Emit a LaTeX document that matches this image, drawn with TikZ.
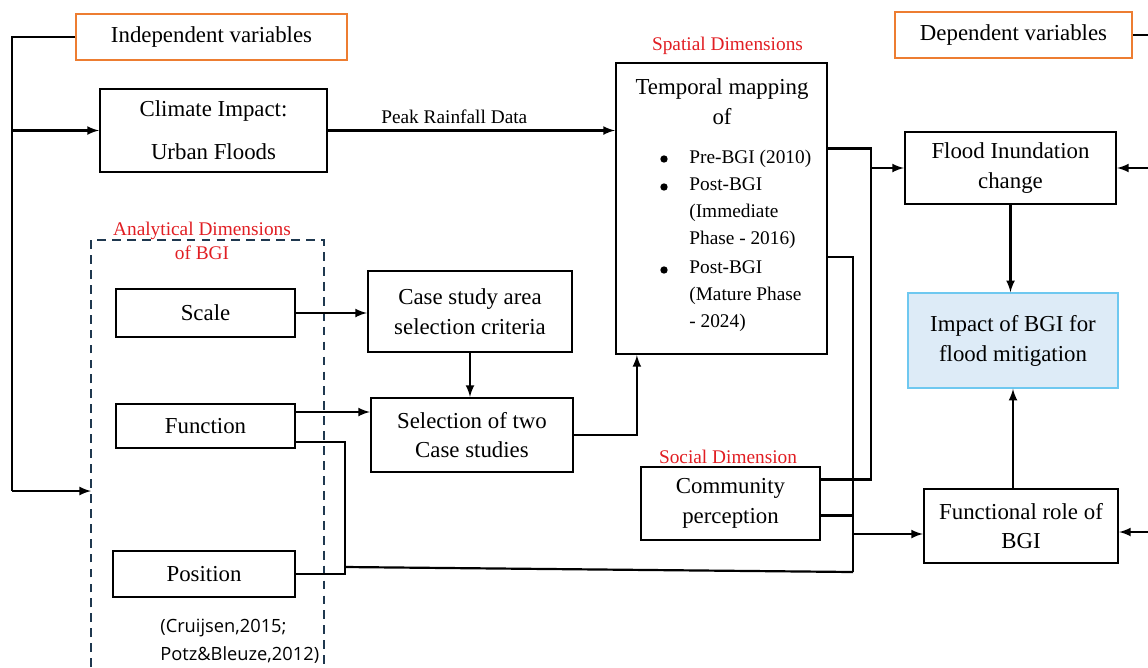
\documentclass[tikz,border=0pt]{standalone}
\usepackage{fontspec}
\setmainfont{Liberation Serif}
\newfontfamily\citefont{Open Sans}
\usetikzlibrary{calc}
\definecolor{varorange}{RGB}{237,125,49}
\definecolor{dimred}{RGB}{225,30,35}
\definecolor{dashblue}{RGB}{31,56,79}
\definecolor{impactfill}{RGB}{221,235,247}
\definecolor{impactline}{RGB}{110,200,240}

\begin{document}
\begin{tikzpicture}[>=latex, x=0.02cm, y=-0.02cm,
		box/.style={draw, line width=1.3pt, inner sep=0pt, align=center, font=\fontsize{13}{17}\selectfont},
		varbox/.style={box, draw=varorange},
		dimlabel/.style={text=dimred, inner sep=0pt, align=center, font=\fontsize{11}{13.7}\selectfont},
		item/.style={inner sep=0pt, align=left, font=\fontsize{11}{15.4}\selectfont},
		dot/.style={circle, fill, inner sep=0pt, minimum size=4.2pt},
		link/.style={line width=1.25pt}]
	\useasboundingbox (0,0) rectangle (1148,667);
	
	% 1. 变量框 (左上与右上)
	\node[varbox, minimum width=5.42cm, minimum height=0.92cm] (indep) at (211.5,37) {Independent variables};
	\node[varbox, minimum width=4.74cm, minimum height=0.92cm] (dep) at (1013.5,35) {Dependent variables};
	
	% 2. 左侧主要方框
	\node[box, minimum width=4.54cm, minimum height=1.66cm, font=\fontsize{13}{24.5}\selectfont] (clim) at (213.5,130.5) {Climate Impact:\\Urban Floods};
	\node[box, minimum width=3.58cm, minimum height=0.96cm] (scale) at (205.5,313) {Scale};
	\node[box, minimum width=3.58cm, minimum height=0.88cm] (func) at (205.5,426) {Function};
	\node[box, minimum width=3.64cm, minimum height=0.92cm] (pos) at (204,574) {Position};
	\node[item, anchor=west, font=\citefont\fontsize{10.4}{16}\selectfont] (cite) at (160,641) {(Cruijsen,2015;\\Potz\&Bleuze,2012)};
	
	% 3. 虚线框 "Analytical Dimensions of BGI"
	\coordinate (adtl) at (91,240);
	\coordinate (adtr) at (324,240);
	\draw[dashblue, line width=1.3pt, dash pattern=on 5pt off 3.5pt] (adtl |- 0,667) -- (adtl) -- (adtr) -- (adtr |- 0,667);
	\node[dimlabel] (anal) at (202,241) {Analytical Dimensions\\of BGI};
	
	% 4. 中间方框
	\node[box, minimum width=4.08cm, minimum height=1.62cm] (case) at (470,311.5) {Case study area\\selection criteria};
	\node[box, minimum width=4.04cm, minimum height=1.48cm] (sel) at (472,435) {Selection of two\\Case studies};
	\node[box, minimum width=3.58cm, minimum height=1.46cm] (comm) at (730.5,503.5) {Community\\perception};
	\node[dimlabel] (social) at (728,457) {Social Dimension};
	
	% 5. 时间映射框及其列表
	\node[box, minimum width=4.22cm, minimum height=5.82cm] (temp) at (721.5,208.5) {};
	\node[dimlabel] (spatial) at (727.5,46) {Spatial Dimensions};
	\node[inner sep=0pt, align=center, font=\fontsize{13}{17}\selectfont] (tempt) at (722,101.5) {Temporal mapping\\of};
	\node[dot] (d1) at (664,159) {};
	\node[dot] (d2) at (664,187) {};
	\node[dot] (d3) at (664,270) {};
	\node[item, anchor=west] (t1) at (689,159) {Pre-BGI (2010)};
	\node[item, anchor=west] (t2) at (689,213) {Post-BGI\\(Immediate\\Phase - 2016)};
	\node[item, anchor=west] (t3) at (689,296) {Post-BGI\\(Mature Phase\\- 2024)};
	
	% 6. 右侧方框
	\node[box, minimum width=4.22cm, minimum height=1.44cm] (flood) at (1010.5,168) {Flood Inundation\\change};
	\node[box, draw=impactline, fill=impactfill, line width=1pt, minimum width=4.2cm, minimum height=1.9cm] (impact) at (1013,340.5) {Impact of BGI for\\flood mitigation};
	\node[box, minimum width=3.88cm, minimum height=1.48cm] (role) at (1021,526) {Functional role of\\BGI};
	
	% 7. 左侧主干线
	\coordinate (ltop) at (12,37);
	\coordinate (lbot) at (12,491);
	\draw[link] (indep.west) -- (ltop) -- (lbot);
	\draw[->, link] (ltop |- clim.west) -- (clim.west);
	\draw[->, link] (lbot) -- (lbot -| adtl);
	
	% 8. 降雨数据与案例选择
	\draw[->, link] (clim.east) -- (clim.east -| temp.west) node[pos=0.44, above=3pt, inner sep=0pt, font=\fontsize{11}{13}\selectfont] (peak) {Peak Rainfall Data};
	\draw[->, link] (scale.east) -- (scale.east -| case.west);
	\coordinate (fup) at ($(func.east)+(0,-14)$);
	\draw[->, link] (fup) -- (fup -| sel.west);
	\draw[->, link] (case.south) -- (case.south |- sel.north);
	\draw[->, link] (sel.east) -| ($(temp.south west)+(22,0)$);
	
	% 9. 汇总到 "Functional role of BGI"
	\coordinate (fx) at (345,567);
	\coordinate (cx) at (853,572);
	\draw[link] ($(func.east)+(0,16)$) -| (fx);
	\draw[link] (pos.east) -| (fx);
	\draw[link] (fx) -- (cx);
	\draw[link] ($(temp.east)+(0,48.5)$) -| (cx);
	\coordinate (clow) at ($(comm.east)+(0,12)$);
	\draw[link] (clow) -- (clow -| cx);
	\coordinate (rin) at ($(role.west)+(0,8)$);
	\draw[->, link] (rin -| cx) -- (rin);
	
	% 10. 汇总到 "Flood Inundation change"
	\coordinate (vx) at (871,168);
	\draw[link] ($(temp.east)+(0,-60)$) -| (vx) |- ($(comm.east)+(0,-24)$);
	\draw[->, link] (vx) -- (flood.west);
	
	% 11. 右侧连线
	\draw[->, link] (flood.south) -- (flood.south |- impact.north);
	\draw[->, link] (impact.south |- role.north) -- (impact.south);
	\coordinate (redge) at (1148,0);
	\draw[link] (dep.east) -- (dep.east -| redge);
	\draw[->, link] (flood.east -| redge) -- (flood.east);
	\coordinate (rin2) at ($(role.east)+(0,6)$);
	\draw[->, link] (rin2 -| redge) -- (rin2);
	
\end{tikzpicture}
\end{document}
